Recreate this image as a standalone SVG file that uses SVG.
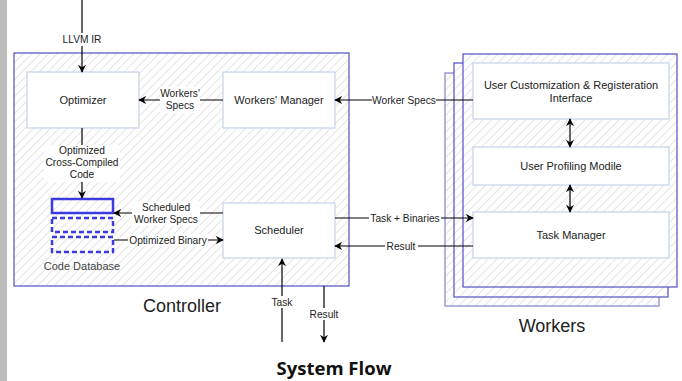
<svg xmlns="http://www.w3.org/2000/svg" width="682" height="381" viewBox="0 0 682 381">
<defs>
<pattern id="hatch" patternUnits="userSpaceOnUse" width="6" height="6" patternTransform="rotate(45)">
<rect width="6" height="6" fill="#ffffff"/>
<line x1="0" y1="0" x2="0" y2="6" stroke="#dcdcdc" stroke-width="1.5"/>
</pattern>
<marker id="arr" viewBox="0 0 10 10" refX="9" refY="5" markerWidth="8" markerHeight="8" markerUnits="userSpaceOnUse" orient="auto-start-reverse">
<path d="M0,0 L10,5 L0,10 L3,5 Z" fill="#000"/>
</marker>
</defs>
<style>
.cont{fill:url(#hatch);stroke:#5050c0;stroke-width:1.2}
.back{fill:url(#hatch);stroke:#9a9ad0;stroke-width:1.5}
.box{fill:#ffffff;stroke:#c4d2e6;stroke-width:1.2}
.t{font-family:"Liberation Sans",Arial,sans-serif;font-size:11px;fill:#222;text-anchor:middle}
.s{font-family:"Liberation Sans",Arial,sans-serif;font-size:10.2px;fill:#222;text-anchor:middle}
.lbl{fill:#ffffff}
.big{font-family:"Liberation Sans",Arial,sans-serif;font-size:18px;fill:#222;text-anchor:middle}
.c{stroke:#000;stroke-width:1.2;fill:none}
.db{fill:none;stroke:#3b3be0;stroke-width:2.5}
.dbd{fill:none;stroke:#3b3be0;stroke-width:2.5;stroke-dasharray:5 3}
</style>
<rect x="0" y="0" width="7" height="381" fill="#bdbdbd"/>

<g id="controller">
<rect class="cont" x="14" y="53" width="335" height="233"/>
<text class="big" x="182" y="312">Controller</text>
</g>

<g id="workers">
<rect class="back" x="445" y="73" width="214" height="233"/>
<rect class="cont" x="454" y="63" width="214" height="234"/>
<rect class="cont" x="463" y="54" width="214" height="233"/>
<text class="big" x="552" y="332">Workers</text>
</g>

<g id="optimizer">
<rect class="box" x="27" y="72" width="112" height="56"/>
<text class="t" x="83" y="104">Optimizer</text>
</g>
<g id="workers-manager">
<rect class="box" x="223" y="72" width="112" height="56"/>
<text class="t" x="279" y="104">Workers' Manager</text>
</g>
<g id="scheduler">
<rect class="box" x="223" y="203" width="112" height="55"/>
<text class="t" x="279" y="234">Scheduler</text>
</g>
<g id="code-database">
<rect class="db" x="52" y="199" width="61" height="14"/>
<rect class="dbd" x="52" y="218" width="61" height="14"/>
<rect class="dbd" x="52" y="237" width="61" height="15"/>
<text class="t" x="82" y="270" style="fill:#444">Code Database</text>
</g>
<g id="user-customization">
<rect class="box" x="473" y="63" width="196" height="56"/>
<text class="t" x="571" y="89">User Customization &amp; Registeration</text>
<text class="t" x="571" y="102">Interface</text>
</g>
<g id="user-profiling">
<rect class="box" x="473" y="147" width="196" height="38"/>
<text class="t" x="571" y="170">User Profiling Modile</text>
</g>
<g id="task-manager">
<rect class="box" x="473" y="212" width="196" height="46"/>
<text class="t" x="571" y="239">Task Manager</text>
</g>

<g id="connectors">
<line class="c" x1="82" y1="0" x2="82" y2="72" marker-end="url(#arr)"/>
<rect class="lbl" x="59" y="33" width="46" height="13"/>
<text class="s" x="82" y="43">LLVM IR</text>

<line class="c" x1="223" y1="100" x2="139" y2="100" marker-end="url(#arr)"/>
<rect class="lbl" x="160" y="87" width="40" height="26"/>
<text class="s" x="180" y="97">Workers'</text>
<text class="s" x="180" y="109">Specs</text>

<line class="c" x1="82" y1="128" x2="82" y2="198" marker-end="url(#arr)"/>
<rect class="lbl" x="44" y="145" width="76" height="37"/>
<text class="s" x="82" y="154">Optimized</text>
<text class="s" x="82" y="166">Cross-Compiled</text>
<text class="s" x="82" y="178">Code</text>

<line class="c" x1="223" y1="213" x2="114" y2="213" marker-end="url(#arr)"/>
<rect class="lbl" x="132" y="201" width="68" height="25"/>
<text class="s" x="166" y="211">Scheduled</text>
<text class="s" x="166" y="223">Worker Specs</text>

<line class="c" x1="114" y1="240" x2="223" y2="240" marker-end="url(#arr)"/>
<rect class="lbl" x="128" y="234" width="80" height="12"/>
<text class="s" x="168" y="244">Optimized Binary</text>

<line class="c" x1="473" y1="100" x2="335" y2="100" marker-end="url(#arr)"/>
<rect class="lbl" x="372" y="94" width="64" height="12"/>
<text class="s" x="404" y="104">Worker Specs</text>

<line class="c" x1="335" y1="218" x2="473" y2="218" marker-end="url(#arr)"/>
<rect class="lbl" x="369" y="212" width="72" height="12"/>
<text class="s" x="405" y="222">Task + Binaries</text>

<line class="c" x1="473" y1="246" x2="335" y2="246" marker-end="url(#arr)"/>
<rect class="lbl" x="385" y="240" width="33" height="12"/>
<text class="s" x="401" y="250">Result</text>

<line class="c" x1="570" y1="119" x2="570" y2="147" marker-start="url(#arr)" marker-end="url(#arr)"/>
<line class="c" x1="570" y1="185" x2="570" y2="212" marker-start="url(#arr)" marker-end="url(#arr)"/>

<line class="c" x1="282" y1="342" x2="282" y2="259" marker-end="url(#arr)"/>
<rect class="lbl" x="270" y="296" width="24" height="12"/>
<text class="s" x="282" y="306">Task</text>

<line class="c" x1="324" y1="286" x2="324" y2="342" marker-end="url(#arr)"/>
<rect class="lbl" x="308" y="308" width="32" height="12"/>
<text class="s" x="324" y="318">Result</text>
</g>

<text x="334" y="375" style="font-family:'Open Sans','Noto Sans',sans-serif;font-size:18.5px;font-weight:bold;fill:#111;text-anchor:middle">System Flow</text>
</svg>
